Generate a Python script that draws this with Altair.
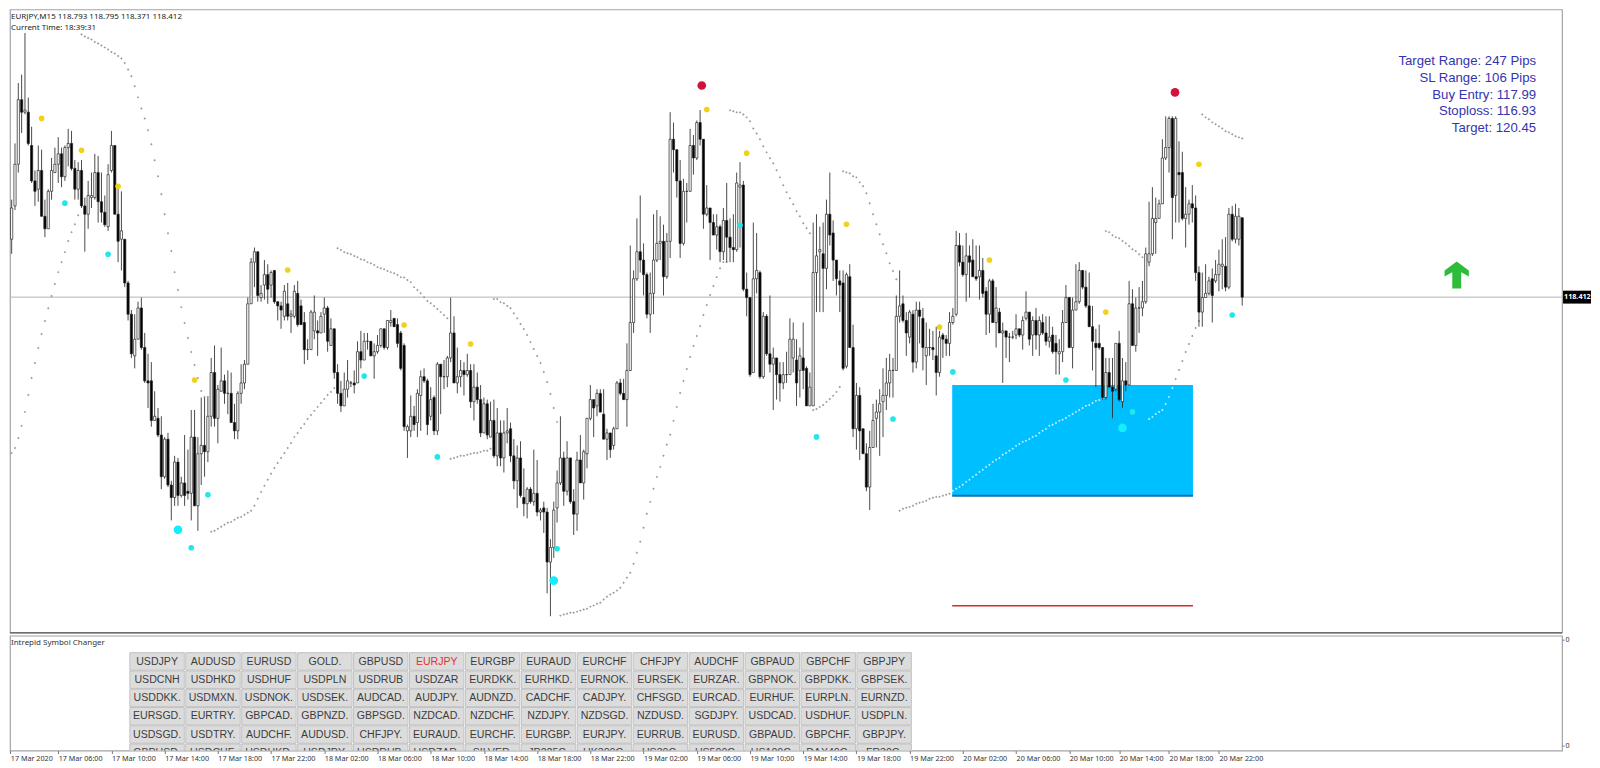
import altair as alt
import pandas as pd

opens = [
118.52,118.61,118.69,118.85,119.05,119.36,119.30,119.30,119.14,118.97,
118.93,119.02,118.80,118.74,118.92,119.01,119.05,119.10,118.99,119.13,
119.15,119.03,118.93,119.02,118.85,118.81,118.89,118.89,119.01,118.87,
118.82,118.75,119.02,119.14,118.81,118.69,118.69,118.48,118.33,118.13,
118.21,118.36,118.17,118.01,118.01,117.82,117.83,117.75,117.55,117.73,
117.51,117.45,117.62,117.46,117.52,117.48,117.47,117.74,117.41,117.66,
117.70,117.67,117.84,118.05,117.83,117.96,118.01,117.95,117.95,117.81,
117.77,117.95,118.00,118.09,118.38,118.58,118.63,118.41,118.47,118.52,
118.47,118.54,118.39,118.37,118.32,118.38,118.32,118.32,118.43,118.37,
118.29,118.16,118.16,118.25,118.25,118.24,118.33,118.36,118.18,118.26,
118.05,117.95,117.89,117.97,118.00,118.00,118.00,118.15,118.11,118.20,
118.20,118.13,118.15,118.18,118.26,118.17,118.29,118.31,118.28,118.24,
118.18,117.77,117.77,117.84,117.81,117.94,118.03,118.01,117.84,117.93,
117.77,118.09,118.03,118.03,118.12,118.24,118.00,118.03,118.06,118.04,
118.06,117.91,117.98,117.92,117.76,117.90,117.74,117.82,117.65,117.76,
117.64,117.76,117.78,117.65,117.53,117.64,117.45,117.42,117.49,117.43,
117.47,117.38,117.40,117.38,117.14,117.21,117.40,117.52,117.64,117.48,
117.64,117.43,117.37,117.63,117.52,117.66,117.83,117.92,117.89,117.95,
117.85,117.73,117.76,117.70,117.78,118.00,117.95,117.92,118.06,118.29,
118.50,118.63,118.59,118.52,118.33,118.43,118.59,118.67,118.68,118.51,
118.68,119.17,119.12,118.97,118.67,118.92,118.92,119.14,119.08,119.25,
119.17,118.81,118.84,118.77,118.71,118.75,118.63,118.78,118.70,118.65,
118.64,118.94,118.95,118.45,118.41,118.05,118.50,118.53,118.03,118.32,
118.14,118.09,118.12,118.04,118.00,118.04,118.04,118.12,118.11,118.06,
118.12,118.07,117.89,117.89,118.53,118.63,118.62,118.55,118.81,118.72,
118.59,118.49,118.48,118.08,118.51,118.17,117.78,117.94,117.78,117.66,
117.50,117.69,117.83,117.86,117.91,117.94,118.00,118.06,118.06,118.32,
118.38,118.30,118.22,118.33,118.10,118.35,118.31,118.13,118.17,118.17,
118.13,118.05,118.23,118.21,118.19,118.29,118.33,118.66,118.58,118.52,
118.61,118.59,118.51,118.51,118.54,118.44,118.33,118.49,118.29,118.34,
118.24,118.25,118.22,118.22,118.23,118.26,118.23,118.31,118.34,118.23,
118.30,118.23,118.29,118.24,118.20,118.23,118.19,118.14,118.15,118.29,
118.41,118.17,118.35,118.39,118.54,118.46,118.37,118.27,118.19,118.19,
118.17,117.93,118.05,117.98,117.97,118.19,117.91,118.01,117.99,118.38,
118.18,118.36,118.36,118.39,118.58,118.62,118.77,118.79,118.86,119.08,
119.13,119.27,118.90,119.01,119.01,118.79,118.81,118.86,118.84,118.53,
118.34,118.41,118.43,118.50,118.49,118.52,118.56,118.56,118.46,118.81,
118.69,118.69,118.793]

highs = [
118.63,118.70,118.88,119.15,119.44,119.48,119.68,119.37,119.23,119.02,
119.14,119.12,118.88,118.93,119.08,119.13,119.18,119.13,119.14,119.22,
119.21,119.07,119.06,119.07,118.89,118.97,119.01,119.10,119.09,119.01,
118.90,119.05,119.21,119.14,118.94,118.92,118.69,118.49,118.35,118.33,
118.39,118.41,118.24,118.14,118.10,117.96,117.88,117.84,117.74,117.76,
117.53,117.65,117.64,117.55,117.75,117.68,117.87,117.87,117.74,117.93,
117.93,117.93,118.12,118.18,117.99,118.17,118.04,118.06,118.05,117.90,
117.96,118.09,118.11,118.41,118.60,118.65,118.63,118.47,118.59,118.57,
118.54,118.54,118.39,118.39,118.47,118.48,118.35,118.47,118.49,118.40,
118.34,118.21,118.35,118.42,118.30,118.34,118.41,118.37,118.31,118.26,
118.09,118.01,118.05,118.11,118.01,118.06,118.20,118.25,118.24,118.24,
118.20,118.19,118.23,118.26,118.26,118.30,118.35,118.31,118.31,118.25,
118.19,117.80,117.94,117.89,117.97,118.06,118.07,118.02,117.98,117.94,
118.10,118.09,118.11,118.13,118.41,118.32,118.17,118.11,118.10,118.14,
118.09,118.09,118.05,117.99,117.93,117.92,117.91,117.92,117.88,117.82,
117.82,117.88,117.81,117.73,117.70,117.72,117.59,117.50,117.50,117.68,
117.63,117.40,117.43,117.40,117.25,117.43,117.58,117.84,117.67,117.72,
117.64,117.49,117.67,117.75,117.68,117.83,117.99,117.92,117.97,117.97,
117.97,117.78,117.76,117.79,118.01,118.02,118.02,118.19,118.66,118.54,
118.79,118.90,118.67,118.53,118.53,118.81,118.83,118.80,118.76,118.72,
119.30,119.25,119.12,119.07,118.98,118.96,119.22,119.19,119.26,119.31,
119.17,118.95,118.84,118.81,118.81,118.76,118.84,118.96,118.79,118.81,
119.01,119.06,118.97,118.53,118.41,118.77,118.72,118.54,118.34,118.33,
118.42,118.17,118.12,118.10,118.10,118.15,118.31,118.29,118.21,118.17,
118.29,118.08,118.05,118.77,118.81,118.75,118.77,118.88,119.01,118.78,
118.59,118.54,118.54,118.53,118.57,118.28,118.00,117.98,117.78,117.71,
117.77,117.90,117.92,117.97,118.07,118.12,118.14,118.12,118.42,118.54,
118.42,118.34,118.35,118.35,118.39,118.39,118.36,118.29,118.26,118.25,
118.27,118.25,118.24,118.23,118.34,118.36,118.73,118.72,118.66,118.72,
118.66,118.69,118.66,118.66,118.60,118.46,118.50,118.50,118.46,118.36,
118.29,118.25,118.24,118.25,118.33,118.26,118.32,118.44,118.34,118.32,
118.36,118.32,118.33,118.32,118.32,118.27,118.23,118.21,118.35,118.47,
118.41,118.41,118.57,118.58,118.54,118.54,118.53,118.37,118.26,118.28,
118.17,118.12,118.12,118.12,118.19,118.25,118.12,118.10,118.49,118.45,
118.41,118.46,118.49,118.65,118.87,118.94,118.89,118.88,119.17,119.28,
119.28,119.28,119.28,119.16,119.11,118.94,118.88,118.95,118.90,118.56,
118.53,118.57,118.51,118.55,118.59,118.64,118.69,118.70,118.84,118.85,
118.86,118.84,118.795]

lows = [
118.29,118.54,118.62,118.83,119.01,119.20,119.29,119.14,118.96,118.85,
118.87,118.80,118.70,118.74,118.88,119.01,118.96,118.94,118.97,119.04,
119.02,118.88,118.88,118.84,118.63,118.74,118.84,118.88,118.77,118.77,
118.75,118.73,119.01,118.81,118.58,118.54,118.46,118.30,118.12,118.07,
118.21,118.16,118.00,117.88,117.79,117.82,117.74,117.49,117.54,117.50,
117.34,117.41,117.41,117.45,117.41,117.44,117.34,117.41,117.29,117.51,
117.55,117.62,117.79,117.79,117.71,117.96,117.90,117.85,117.81,117.73,
117.73,117.90,117.97,118.09,118.38,118.46,118.39,118.39,118.40,118.38,
118.41,118.38,118.30,118.26,118.30,118.30,118.24,118.31,118.27,118.28,
118.09,118.11,118.16,118.21,118.13,118.24,118.24,118.15,118.18,118.02,
117.90,117.86,117.89,117.93,117.98,117.95,118.00,118.07,118.11,118.16,
118.13,118.02,118.14,118.17,118.16,118.16,118.27,118.27,118.17,118.06,
117.77,117.64,117.74,117.77,117.74,117.77,118.00,117.75,117.82,117.75,
117.75,117.85,117.97,117.98,118.10,118.00,117.95,117.98,117.94,118.03,
117.88,117.82,117.90,117.74,117.76,117.73,117.74,117.64,117.60,117.60,
117.57,117.71,117.62,117.49,117.40,117.45,117.36,117.35,117.42,117.41,
117.36,117.34,117.28,116.99,116.88,117.16,117.33,117.51,117.41,117.46,
117.42,117.27,117.29,117.52,117.44,117.59,117.82,117.74,117.84,117.86,
117.73,117.63,117.64,117.68,117.78,117.94,117.92,117.79,118.06,118.24,
118.49,118.53,118.42,118.31,118.24,118.33,118.58,118.59,118.42,118.50,
118.60,119.01,118.89,118.60,118.66,118.77,118.92,119.00,119.07,119.14,
118.74,118.80,118.59,118.71,118.64,118.58,118.59,118.58,118.58,118.58,
118.63,118.65,118.44,118.32,118.03,118.05,118.43,118.02,118.02,118.13,
118.05,117.87,117.92,117.91,117.97,118.00,118.04,118.05,117.89,117.93,
117.97,117.89,117.89,117.89,118.34,118.34,118.34,118.45,118.66,118.49,
118.42,118.34,118.06,118.07,118.17,117.74,117.68,117.63,117.66,117.48,
117.39,117.69,117.69,117.65,117.74,117.87,117.93,117.93,118.06,118.29,
118.29,118.13,118.19,118.05,118.07,118.19,118.06,117.99,118.13,118.11,
117.94,118.03,118.12,118.13,118.13,118.28,118.32,118.56,118.51,118.39,
118.41,118.51,118.49,118.40,118.41,118.23,118.24,118.29,118.17,118.24,
118.00,118.12,118.10,118.21,118.21,118.22,118.16,118.30,118.18,118.13,
118.16,118.13,118.23,118.18,118.17,118.14,118.04,118.04,118.10,118.29,
118.17,118.07,118.35,118.38,118.45,118.36,118.27,118.06,117.98,118.16,
117.92,117.92,117.98,117.83,117.96,117.91,117.88,117.96,117.99,118.18,
118.15,118.24,118.32,118.38,118.56,118.61,118.62,118.79,118.86,119.07,
119.01,118.69,118.77,118.77,118.78,118.65,118.76,118.77,118.49,118.27,
118.27,118.41,118.42,118.29,118.48,118.44,118.45,118.44,118.45,118.68,
118.67,118.66,118.371]

closes = [
118.30,118.69,118.84,119.05,119.36,119.30,119.31,119.15,118.97,118.92,
119.02,118.80,118.74,118.92,119.02,119.05,119.10,118.99,119.13,119.15,
119.03,118.93,119.02,118.85,118.81,118.90,118.90,119.01,118.87,118.82,
118.76,119.00,119.14,118.81,118.68,118.73,118.48,118.33,118.14,118.21,
118.36,118.17,118.01,118.00,117.82,117.84,117.75,117.55,117.73,117.51,
117.45,117.62,117.46,117.52,117.46,117.47,117.74,117.41,117.66,117.70,
117.67,117.84,118.05,117.83,117.97,118.01,117.95,117.95,117.81,117.77,
117.95,118.00,118.09,118.38,118.58,118.63,118.42,118.43,118.52,118.45,
118.53,118.39,118.37,118.35,118.44,118.32,118.33,118.44,118.28,118.28,
118.16,118.16,118.34,118.34,118.24,118.32,118.36,118.20,118.26,118.05,
117.95,117.89,117.97,118.01,118.00,117.99,118.15,118.11,118.20,118.20,
118.13,118.15,118.18,118.26,118.17,118.30,118.30,118.27,118.19,118.07,
117.79,117.79,117.84,117.80,117.95,118.03,118.01,117.80,117.92,117.77,
118.09,118.03,118.03,118.12,118.24,118.00,118.03,118.06,118.04,118.06,
117.91,117.98,117.92,117.76,117.90,117.75,117.82,117.65,117.76,117.64,
117.76,117.77,117.65,117.53,117.64,117.46,117.42,117.49,117.43,117.47,
117.38,117.39,117.38,117.14,117.21,117.39,117.52,117.64,117.48,117.64,
117.43,117.37,117.63,117.52,117.67,117.83,117.92,117.88,117.95,117.86,
117.73,117.76,117.68,117.78,118.00,117.95,117.92,118.06,118.29,118.50,
118.63,118.59,118.52,118.33,118.43,118.59,118.67,118.68,118.51,118.68,
119.17,119.12,118.97,118.67,118.92,118.92,119.14,119.08,119.25,119.17,
118.81,118.84,118.77,118.71,118.75,118.63,118.78,118.70,118.65,118.64,
118.96,118.95,118.45,118.41,118.04,118.50,118.54,118.03,118.32,118.14,
118.09,118.12,118.04,118.00,118.04,118.04,118.21,118.21,118.00,118.13,
118.06,117.89,117.98,118.53,118.61,118.64,118.55,118.81,118.71,118.59,
118.50,118.47,118.07,118.52,118.17,117.78,117.94,117.77,117.66,117.50,
117.69,117.82,117.86,117.90,117.94,118.00,118.06,118.06,118.32,118.37,
118.30,118.24,118.34,118.10,118.35,118.32,118.17,118.17,118.17,118.16,
118.05,118.22,118.21,118.19,118.29,118.32,118.66,118.58,118.52,118.61,
118.58,118.51,118.50,118.54,118.43,118.33,118.49,118.29,118.36,118.24,
118.25,118.22,118.22,118.22,118.26,118.23,118.30,118.34,118.21,118.30,
118.23,118.30,118.24,118.20,118.22,118.15,118.15,118.15,118.29,118.41,
118.17,118.35,118.39,118.54,118.46,118.37,118.27,118.20,118.17,118.17,
117.93,118.05,117.98,117.96,118.19,117.92,118.01,117.99,118.38,118.18,
118.36,118.36,118.39,118.62,118.62,118.79,118.79,118.86,119.08,119.13,
119.27,118.89,119.27,119.00,118.79,118.81,118.86,118.84,118.53,118.34,
118.41,118.43,118.49,118.42,118.52,118.57,118.57,118.46,118.81,118.69,
118.80,118.80,118.412]

sar = [
117.616,117.636,117.664,117.688,117.736,117.794,117.861,117.942,118.024,118.096,
118.168,118.235,118.297,118.359,118.417,118.475,118.532,118.580,118.628,118.681,
118.724,118.762,118.805,
119.673,119.663,119.656,119.649,119.637,119.630,119.620,119.611,119.601,119.589,
119.582,119.570,119.558,119.536,119.505,119.472,119.424,119.371,119.318,119.270,
119.213,119.146,119.069,118.992,118.906,118.810,118.719,118.633,118.532,118.446,
118.364,118.288,118.216,118.149,118.086,118.024,117.961,117.933,117.933,
117.286,117.290,117.300,117.310,117.319,117.329,117.333,117.343,117.353,117.357,
117.367,117.377,117.386,117.410,117.444,117.477,117.506,117.535,117.564,117.592,
117.616,117.640,117.664,117.688,117.712,117.741,117.760,117.784,117.803,117.827,
117.846,117.866,117.885,117.904,117.923,117.942,117.957,117.976,
118.647,118.638,118.628,118.623,118.618,118.609,118.604,118.594,118.590,118.580,
118.575,118.566,118.556,118.551,118.546,118.537,118.532,118.527,118.518,118.508,
118.506,118.494,118.484,118.460,118.446,118.431,118.412,118.393,118.383,118.369,
118.355,118.340,118.326,118.311,
117.636,117.640,117.645,117.650,117.650,117.655,117.660,117.664,117.664,117.669,
117.674,117.674,117.684,
118.403,118.403,118.388,118.383,118.369,118.359,118.335,118.311,118.283,118.259,
118.230,118.196,118.163,118.129,118.096,118.053,118.005,117.947,117.880,117.813,
116.883,116.888,116.892,116.897,116.897,116.902,116.907,116.912,116.916,116.926,
116.931,116.940,116.945,116.960,116.974,116.984,116.993,117.003,117.017,117.041,
117.065,117.089,117.132,117.185,117.238,117.305,117.372,117.429,117.492,117.549,
117.597,117.650,117.703,117.751,117.818,117.885,117.952,118.009,118.067,118.125,
118.177,118.225,118.273,118.326,118.374,118.422,118.465,118.508,118.551,118.580,118.580,
119.309,119.304,119.299,119.299,119.289,119.275,119.256,119.222,119.198,119.170,
119.136,119.107,119.079,119.055,119.021,118.987,118.949,118.916,118.887,118.858,
118.824,118.800,118.767,118.743,118.719,
117.870,117.875,117.885,117.894,117.909,117.923,117.938,117.957,117.981,
119.016,119.011,119.007,118.992,118.987,118.963,118.944,118.911,118.863,118.810,
118.762,118.714,118.666,118.623,118.575,118.537,118.498,
117.386,117.396,117.401,117.405,117.410,117.420,117.425,117.429,117.434,117.444,
117.449,117.453,117.453,117.458,117.463,117.468,117.482,117.492,117.501,117.511,
117.525,117.535,117.549,117.559,117.573,117.583,117.597,117.607,117.621,117.631,
117.640,117.655,117.664,117.674,117.684,117.698,117.707,117.717,117.722,117.731,
117.741,117.746,117.760,117.770,117.779,117.794,117.799,117.808,117.818,117.823,
117.832,117.842,117.851,117.861,117.870,117.880,117.890,117.894,117.904,117.914,
117.918,117.928,
118.729,118.724,118.709,118.700,118.695,118.681,118.671,118.657,118.642,118.633,
118.618,118.604,118.594,
117.827,117.837,117.851,117.861,117.870,117.899,117.933,117.976,118.019,118.062,
118.105,118.149,118.187,118.225,118.264,118.297,
119.289,119.275,119.266,119.251,119.242,119.232,119.222,119.208,119.203,119.194,
119.184,119.179,119.174]

yellow_bars = [11,23,34,57,85,120,140,211,223,253,281,296,331,359]
yellow_prices = [119.270,119.117,118.944,118.014,118.542,118.278,118.187,119.313,119.103,118.762,118.268,118.590,118.340,119.050]
cyan_bars = [18,31,61,56,108,130,166,221,244,267,285,319,339,369]
cyan_prices = [118.863,118.618,117.463,117.209,118.033,117.645,117.204,118.757,117.741,117.827,118.053,118.014,117.861,118.326]
big_cyan_bars = [52,165,336]
big_cyan_prices = [117.295,117.051,117.784]
red_bars = [209.5,351.8]
red_prices = [119.428,119.395]

zone_left, zone_right = 284.8, 357.2
buy_entry, zone_low, stoploss = 117.99, 117.458, 116.93
last_price = 118.412
arrow_bar, arrow_price = 436.5, 118.518

price_ticks = [119.745,119.610,119.480,119.345,119.210,119.080,118.945,118.810,118.680,118.545,
               118.285,118.150,118.015,117.885,117.750,117.615,117.485,117.350,117.215,117.085,116.950,116.820]
time_ticks = [1.6,16,32,48,64,80,96,112,128,144,160,176,192,208,224,240,256,272,288,304,320,335,350,365]
time_labels = ["17 Mar 2020","17 Mar 06:00","17 Mar 10:00","17 Mar 14:00","17 Mar 18:00","17 Mar 22:00",
               "18 Mar 02:00","18 Mar 06:00","18 Mar 10:00","18 Mar 14:00","18 Mar 18:00","18 Mar 22:00",
               "19 Mar 02:00","19 Mar 06:00","19 Mar 10:00","19 Mar 14:00","19 Mar 18:00","19 Mar 22:00",
               "20 Mar 02:00","20 Mar 06:00","20 Mar 10:00","20 Mar 14:00","20 Mar 18:00","20 Mar 22:00"]
info_lines = ["Target Range: 247 Pips","SL Range: 106 Pips","Buy Entry: 117.99","Stoploss: 116.93","Target: 120.45"]
symbols = [
 ["USDJPY","AUDUSD","EURUSD","GOLD.","GBPUSD","EURJPY","EURGBP","EURAUD","EURCHF","CHFJPY","AUDCHF","GBPAUD","GBPCHF","GBPJPY"],
 ["USDCNH","USDHKD","USDHUF","USDPLN","USDRUB","USDZAR","EURDKK.","EURHKD.","EURNOK.","EURSEK.","EURZAR.","GBPNOK.","GBPDKK.","GBPSEK."],
 ["USDDKK.","USDMXN.","USDNOK.","USDSEK.","AUDCAD.","AUDJPY.","AUDNZD.","CADCHF.","CADJPY.","CHFSGD.","EURCAD.","EURHUF.","EURPLN.","EURNZD."],
 ["EURSGD.","EURTRY.","GBPCAD.","GBPNZD.","GBPSGD.","NZDCAD.","NZDCHF.","NZDJPY.","NZDSGD.","NZDUSD.","SGDJPY.","USDCAD.","USDHUF.","USDPLN."],
 ["USDSGD.","USDTRY.","AUDCHF.","AUDUSD.","CHFJPY.","EURAUD.","EURCHF.","EURGBP.","EURJPY.","EURRUB.","EURUSD.","GBPAUD.","GBPCHF.","GBPJPY."],
 ["GBPUSD.","USDCHF.","USDHKD.","USDJPY.","USDRUB.","USDZAR.","SILVER.","JP225C.","HK300C.","US30C.","US500C.","US100C.","DAX40C.","FR30C."],
]

FONT = "Noto Sans"
W, H, H2 = 1554, 624, 115
x_scale = alt.Scale(domain=[1.5, 468.17], nice=False, zero=False, padding=0)
y_scale = alt.Scale(domain=[116.801, 119.793], nice=False, zero=False, padding=0)

candles = pd.DataFrame({"bar": range(len(opens)), "open": opens, "high": highs, "low": lows, "close": closes, "sar": sar})
candles["top"] = candles[["open", "close"]].max(axis=1)
candles["bot"] = candles[["open", "close"]].min(axis=1)

X = alt.X("bar:Q", scale=x_scale, axis=None, title=None)
def Y(field):
    return alt.Y(field, scale=y_scale, axis=None, title=None)

zone = pd.DataFrame({"bar": [zone_left], "bar2": [zone_right], "a": [buy_entry], "b": [zone_low], "s": [stoploss]})
zone_rect = alt.Chart(zone).mark_rect(color="#00bfff").encode(X, x2="bar2:Q", y=Y("a:Q"), y2="b:Q")
zone_edge = alt.Chart(zone).mark_rule(color="#0072b5", strokeWidth=2).encode(X, x2="bar2:Q", y=Y("b:Q"))
stop_line = alt.Chart(zone).mark_rule(color="#e0242c", strokeWidth=1.6).encode(X, x2="bar2:Q", y=Y("s:Q"))

last_df = pd.DataFrame({"p": [last_price], "a": [last_price + 0.031], "b": [last_price - 0.031], "t": [f"{last_price:.3f}"]})
price_line = alt.Chart(last_df).mark_rule(color="#b4b4b4", strokeWidth=1).encode(y=alt.Y("p:Q", scale=y_scale, axis=None, title=None))
tag_bg = alt.Chart(last_df).mark_rect(color="black").encode(
    x=alt.value(W + 1), x2=alt.value(W + 29), y=Y("a:Q"), y2="b:Q")
tag_text = alt.Chart(last_df).mark_text(color="white", font=FONT, fontSize=7.2, align="left", fontWeight="bold").encode(
    x=alt.value(W + 2), y=Y("p:Q"), text="t:N")

sar_in_zone = (f"datum.bar >= {zone_left} && datum.bar <= {zone_right} && "
               f"datum.sar <= {buy_entry} && datum.sar >= {zone_low}")
sar_pts = alt.Chart(candles).mark_point(shape="diamond", filled=True, size=6, opacity=0.85, clip=True).encode(
    X, y=Y("sar:Q"),
    color=alt.condition(sar_in_zone, alt.value("#e8fbff"), alt.value("#8a8a8a")))

wicks = alt.Chart(candles).mark_rule(color="#2a2a2a", strokeWidth=0.85, clip=True).encode(
    X,
    y=alt.Y("high:Q", scale=y_scale, title=None,
            axis=alt.Axis(orient="right", values=price_ticks, format=".3f", grid=False, domain=False,
                          tickColor="#777777", tickSize=2, labelFont=FONT, labelFontSize=7.1,
                          labelColor="#333333", labelPadding=1, labelOverlap=False)),
    y2="low:Q")
is_up = "datum.close >= datum.open"
bodies = alt.Chart(candles).mark_bar(size=2.2, strokeWidth=0.7, clip=True, stroke="#222222").encode(
    X, y=Y("top:Q"), y2="bot:Q",
    fill=alt.condition(is_up, alt.value("white"), alt.value("black")))

def dots(bars, prices, color, size):
    df = pd.DataFrame({"bar": bars, "p": prices})
    return alt.Chart(df).mark_circle(color=color, size=size, opacity=1).encode(X, y=Y("p:Q"))

yellow = dots(yellow_bars, yellow_prices, "#f0d21e", 32)
cyan = dots(cyan_bars, cyan_prices, "#22e6ea", 32)
big_cyan = dots(big_cyan_bars, big_cyan_prices, "#14eefc", 76)
red = dots(red_bars, red_prices, "#d3123c", 76)

arrow_path = "M0,-1 L0.9,-0.33 L0.9,0.1 L0.33,-0.2 L0.33,1 L-0.33,1 L-0.33,-0.2 L-0.9,0.1 L-0.9,-0.33 Z"
arrow = alt.Chart(pd.DataFrame({"bar": [arrow_bar], "p": [arrow_price]})).mark_point(
    shape=arrow_path, filled=True, size=729, color="#2dbd3a", opacity=1).encode(X, y=Y("p:Q"))

info = pd.DataFrame({"t": info_lines, "yy": [52 + 16.7 * i for i in range(len(info_lines))]})
info_text = alt.Chart(info).mark_text(font="Liberation Sans", fontSize=13.2, align="right", color="#3434b0").encode(
    x=alt.value(1528), y=alt.Y("yy:Q", scale=None, axis=None), text="t:N")

head = pd.DataFrame({"t": ["EURJPY,M15  118.793 118.795 118.371 118.412", "Current Time: 18:39:31"], "yy": [8, 19]})
head_text = alt.Chart(head).mark_text(font=FONT, fontSize=8, align="left", color="#222222").encode(
    x=alt.value(1), y=alt.Y("yy:Q", scale=None, axis=None), text="t:N")

pane_floor = alt.Chart(pd.DataFrame({"p": [y_scale.domain[0]]})).mark_rule(color="#6e6e6e", strokeWidth=1.5).encode(
    y=alt.Y("p:Q", scale=y_scale, axis=None, title=None))

top = alt.layer(
    zone_rect, zone_edge, stop_line, price_line, sar_pts, wicks, bodies,
    yellow, cyan, big_cyan, red, arrow, info_text, head_text, pane_floor, tag_bg, tag_text
).properties(width=W, height=H)

# ---------- lower pane ----------
btn = pd.DataFrame([{"col": c, "row": r, "col2": c + 0.973, "row2": r + 0.956,
                     "cx": c + 0.487, "cy": r + 0.49, "label": s}
                    for r, line in enumerate(symbols) for c, s in enumerate(line)])
col_scale = alt.Scale(domain=[-2.143, 25.607], nice=False, zero=False)
row_scale = alt.Scale(domain=[-0.929, 5.355], nice=False, zero=False, reverse=True)
btn_rect = alt.Chart(btn).mark_rect(fill="#dcdcdc", stroke="#c2c2c2", strokeWidth=1, clip=True).encode(
    x=alt.X("col:Q", scale=col_scale, axis=None, title=None), x2="col2:Q",
    y=alt.Y("row:Q", scale=row_scale, axis=None, title=None), y2="row2:Q")
btn_text = alt.Chart(btn).mark_text(font="Liberation Sans", fontSize=10.6, clip=True).encode(
    x=alt.X("cx:Q", scale=col_scale, axis=None, title=None),
    y=alt.Y("cy:Q", scale=row_scale, axis=None, title=None),
    text="label:N",
    color=alt.condition("datum.label == 'EURJPY'", alt.value("#e83030"), alt.value("#3c3c3c")))
pane_title = alt.Chart(pd.DataFrame({"t": ["Intrepid Symbol Changer"], "yy": [7]})).mark_text(
    font=FONT, fontSize=8, align="left", color="#333333").encode(
    x=alt.value(1), y=alt.Y("yy:Q", scale=None, axis=None), text="t:N")
buttons = alt.layer(btn_rect, btn_text)

axis_df = pd.DataFrame({"bar": [2, 365], "v": [0, 1]})
vals = "[" + ",".join(str(v) for v in time_ticks) + "]"
labs = "[" + ",".join("'" + s + "'" for s in time_labels) + "]"
axis_layer = alt.Chart(axis_df).mark_point(opacity=0).encode(
    x=alt.X("bar:Q", scale=x_scale, title=None,
            axis=alt.Axis(orient="bottom", values=time_ticks, grid=False, domain=False,
                          tickColor="#777777", tickSize=3, labelFont=FONT, labelFontSize=7.2,
                          labelColor="#333333", labelAlign="left", labelPadding=1, labelOverlap=False,
                          labelBound=False, labelFlush=False,
                          labelExpr=f"{labs}[indexof({vals}, datum.value)]")),
    y=alt.Y("v:Q", scale=alt.Scale(domain=[-0.047, 1.038], nice=False, zero=False), title=None,
            axis=alt.Axis(orient="right", values=[0, 1], grid=False, domain=False, tickColor="#777777",
                          tickSize=2, labelFont=FONT, labelFontSize=7.1, labelColor="#333333",
                          labelPadding=1, labelExpr="'0'")))

bottom = alt.layer(buttons, pane_title, axis_layer).resolve_scale(x="independent", y="independent").properties(width=W, height=H2)

chart = alt.vconcat(top, bottom, spacing=0).properties(padding=0, background="white").configure_view(
    stroke="#a4a4a4", strokeWidth=1.2)
chart.save("out.html", embed_options={"renderer": "svg", "actions": False})
